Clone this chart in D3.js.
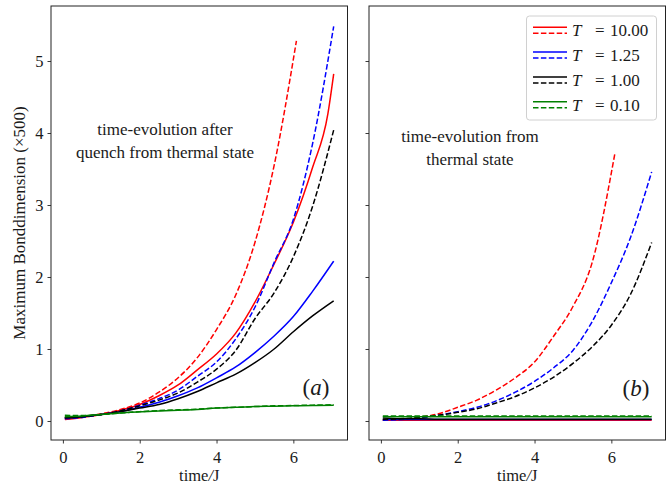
<!DOCTYPE html>
<html>
<head>
<meta charset="utf-8">
<script src="https://cdn.jsdelivr.net/npm/d3@7"></script>
<style>
  html, body { margin: 0; padding: 0; background: #fff; }
  svg { display: block; }
  text { font-family: "Liberation Serif", "DejaVu Serif", serif; fill: #1a1a1a; }
</style>
</head>
<body>
<svg id="chart" width="672" height="485"></svg>
<script>
// ---------- data ----------
const tCommon = [0.05, 0.5, 1, 1.5, 2, 2.5, 3, 3.5, 4, 4.5, 5, 5.5, 6, 6.5, 7.05];
const tRedSolidL = [0.05, 0.5, 1, 1.5, 2, 2.5, 3, 3.5, 4, 4.5, 5, 5.5, 6, 6.5, 6.9, 7.05];
const tRedDashL = [0.05, 0.5, 1, 1.5, 2, 2.5, 3, 3.5, 4, 4.5, 5, 5.5, 6.08];
const tRedDashR = [0.05, 0.5, 1, 1.5, 2, 2.5, 3, 3.5, 4, 4.5, 5, 5.5, 6.09];

// panel (a): quench from thermal state
const redSolidL   = [0.02, 0.05, 0.09, 0.15, 0.23, 0.35, 0.50, 0.71, 0.93, 1.22, 1.65, 2.18, 2.76, 3.52, 4.27, 4.82];
const redDashL    = [0.04, 0.06, 0.10, 0.16, 0.25, 0.40, 0.60, 0.88, 1.27, 1.75, 2.48, 3.55, 5.28];
const blueSolidL  = [0.04, 0.06, 0.09, 0.13, 0.19, 0.26, 0.35, 0.46, 0.60, 0.75, 0.95, 1.18, 1.45, 1.80, 2.22];
const blueDashL   = [0.03, 0.05, 0.09, 0.14, 0.22, 0.31, 0.43, 0.62, 0.82, 1.14, 1.58, 2.20, 2.80, 3.85, 5.48];
const blackSolidL = [0.04, 0.06, 0.09, 0.13, 0.18, 0.23, 0.31, 0.41, 0.53, 0.65, 0.81, 1.00, 1.24, 1.46, 1.67];
const blackDashL  = [0.05, 0.06, 0.09, 0.14, 0.21, 0.29, 0.39, 0.54, 0.72, 0.98, 1.42, 1.78, 2.28, 2.98, 4.04];
const greenSolidL = [0.06, 0.07, 0.09, 0.11, 0.13, 0.14, 0.15, 0.16, 0.18, 0.19, 0.20, 0.205, 0.21, 0.215, 0.22];
const greenDashL  = [0.08, 0.075, 0.09, 0.11, 0.13, 0.145, 0.155, 0.165, 0.18, 0.19, 0.20, 0.21, 0.215, 0.22, 0.225];

// panel (b): time-evolution from thermal state
const redSolidR   = [0.01, 0.01, 0.01, 0.01, 0.01, 0.01, 0.01, 0.01, 0.01, 0.01, 0.01, 0.01, 0.01, 0.01, 0.01];
const redDashR    = [0.01, 0.02, 0.05, 0.10, 0.19, 0.29, 0.43, 0.60, 0.82, 1.18, 1.59, 2.20, 3.71];
const blueSolidR  = [0.02, 0.02, 0.02, 0.02, 0.02, 0.02, 0.02, 0.02, 0.02, 0.02, 0.02, 0.02, 0.02, 0.02, 0.02];
const blueDashR   = [0.01, 0.02, 0.04, 0.08, 0.13, 0.19, 0.28, 0.40, 0.55, 0.74, 0.98, 1.38, 1.92, 2.55, 3.46];
const blackSolidR = [0.04, 0.03, 0.03, 0.025, 0.025, 0.025, 0.025, 0.025, 0.025, 0.025, 0.025, 0.025, 0.025, 0.025, 0.025];
const blackDashR  = [0.02, 0.03, 0.05, 0.08, 0.12, 0.17, 0.25, 0.34, 0.46, 0.61, 0.80, 1.03, 1.33, 1.76, 2.48];
const greenSolidR = [0.06, 0.06, 0.06, 0.06, 0.06, 0.06, 0.06, 0.06, 0.06, 0.06, 0.06, 0.06, 0.06, 0.06, 0.06];
const greenDashR  = [0.07, 0.07, 0.07, 0.07, 0.07, 0.07, 0.07, 0.07, 0.07, 0.07, 0.07, 0.07, 0.07, 0.07, 0.07];

const temps = ["10.00", "1.25", "1.00", "0.10"];
const colors = ["#ff0000", "#0000ff", "#000000", "#008000"];
const xTicks = [0, 2, 4, 6];
const yTicks = [0, 1, 2, 3, 4, 5];
const annotA = ["time-evolution after", "quench from thermal state"];
const annotB = ["time-evolution from", "thermal state"];

// ---------- layout ----------
const svg = d3.select("#chart");
const yScale = d3.scaleLinear().domain([-0.264, 5.764]).range([440, 6]);
const panels = [
  { x: d3.scaleLinear().domain([-0.31, 7.41]).range([51, 347.5]), showY: true,
    series: [
      [tRedSolidL, redSolidL, 0, false], [tRedDashL, redDashL, 0, true],
      [tCommon, blueSolidL, 1, false], [tCommon, blueDashL, 1, true],
      [tCommon, blackSolidL, 2, false], [tCommon, blackDashL, 2, true],
      [tCommon, greenSolidL, 3, false], [tCommon, greenDashL, 3, true]
    ], annot: annotA, annotX: 165, annotY: 135, tag: "a", tagX: 316, tagY: 395 },
  { x: d3.scaleLinear().domain([-0.31, 7.41]).range([369, 665.5]), showY: false,
    series: [
      [tCommon, redSolidR, 0, false], [tRedDashR, redDashR, 0, true],
      [tCommon, blueSolidR, 1, false], [tCommon, blueDashR, 1, true],
      [tCommon, blackSolidR, 2, false], [tCommon, blackDashR, 2, true],
      [tCommon, greenSolidR, 3, false], [tCommon, greenDashR, 3, true]
    ], annot: annotB, annotX: 470, annotY: 141.5, tag: "b", tagX: 636, tagY: 396 }
];

const [y0, y1] = yScale.range();
panels.forEach(p => {
  const g = svg.append("g");
  const [x0, x1] = p.x.range();
  const clipId = "clip" + p.tag;
  svg.append("clipPath").attr("id", clipId).append("rect")
    .attr("x", x0).attr("y", y1).attr("width", x1 - x0).attr("height", y0 - y1);

  const lineGen = d3.line().curve(d3.curveMonotoneX);
  const lg = g.append("g").attr("clip-path", `url(#${clipId})`);
  p.series.forEach(([ts, vs, ci, dashed]) => {
    lg.append("path")
      .attr("d", lineGen(ts.map((t, i) => [p.x(t), yScale(vs[i])])))
      .attr("fill", "none")
      .attr("stroke", colors[ci])
      .attr("stroke-width", 1.5)
      .attr("stroke-dasharray", dashed ? "5.5,2.4" : null);
  });

  // axes
  const xAxis = d3.axisBottom(p.x).tickValues(xTicks).tickSize(3.5).tickPadding(4).tickFormat(d3.format("d"));
  const gx = g.append("g").attr("transform", `translate(0,${y0})`).call(xAxis);
  const yAxis = d3.axisLeft(yScale).tickValues(yTicks).tickSize(3.5).tickPadding(4)
    .tickFormat(p.showY ? d3.format("d") : () => "");
  const gy = g.append("g").attr("transform", `translate(${x0},0)`).call(yAxis);
  [gx, gy].forEach(a => {
    a.select(".domain").remove();
    a.selectAll(".tick line").attr("stroke", "#222").attr("stroke-width", 0.9);
    a.selectAll(".tick text").attr("font-size", 16.5).attr("fill", "#1a1a1a")
      .style("font-family", '"Liberation Serif", serif');
  });
  gx.selectAll(".tick text").attr("dy", "0.95em");

  // frame
  g.append("rect").attr("x", x0).attr("y", y1).attr("width", x1 - x0).attr("height", y0 - y1)
    .attr("fill", "none").attr("stroke", "#222").attr("stroke-width", 1);

  // x label
  const xl = g.append("text").attr("x", (x0 + x1) / 2).attr("y", 481)
    .attr("text-anchor", "middle").attr("font-size", 16.5);
  xl.append("tspan").text("time");
  xl.append("tspan").attr("font-style", "italic").text("/");
  xl.append("tspan").text("J");

  // annotation
  p.annot.forEach((s, i) => {
    g.append("text").attr("x", p.annotX).attr("y", p.annotY + i * 23)
      .attr("text-anchor", "middle").attr("font-size", 17).text(s);
  });

  // panel tag
  const tg = g.append("text").attr("x", p.tagX).attr("y", p.tagY)
    .attr("text-anchor", "middle").attr("font-size", 23).attr("fill", "#333");
  tg.append("tspan").text("(");
  tg.append("tspan").attr("font-style", "italic").text(p.tag);
  tg.append("tspan").text(")");
});

// y label
svg.append("text")
  .attr("transform", "translate(25,223) rotate(-90)")
  .attr("text-anchor", "middle").attr("font-size", 17)
  .text("Maximum Bonddimension (×500)");

// legend
const leg = svg.append("g");
leg.append("rect").attr("x", 526.5).attr("y", 16).attr("width", 130).attr("height", 104)
  .attr("rx", 3).attr("fill", "#fff").attr("fill-opacity", 0.85)
  .attr("stroke", "#d0d0d0").attr("stroke-width", 1);
temps.forEach((tv, i) => {
  const cy = 30.3 + i * 24.8;
  leg.append("line").attr("x1", 533).attr("x2", 567).attr("y1", cy - 3).attr("y2", cy - 3)
    .attr("stroke", colors[i]).attr("stroke-width", 1.5);
  leg.append("line").attr("x1", 533).attr("x2", 567).attr("y1", cy + 3).attr("y2", cy + 3)
    .attr("stroke", colors[i]).attr("stroke-width", 1.5).attr("stroke-dasharray", "5.5,2.4");
  const tx = leg.append("text").attr("y", cy + 6).attr("font-size", 17);
  tx.append("tspan").attr("x", 572).attr("font-style", "italic").text("T");
  tx.append("tspan").attr("x", 595).text("=");
  tx.append("tspan").attr("x", 610).text(tv);
});
</script>
</body>
</html>
